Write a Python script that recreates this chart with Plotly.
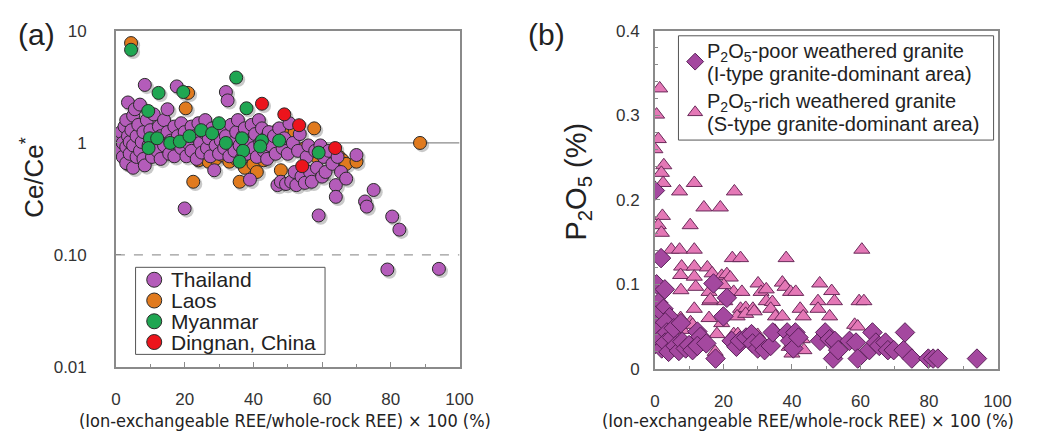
import plotly.graph_objects as go

W, H = 1039, 439

# ---------------- Panel (a): Ce/Ce* vs. ion-exchangeable fraction ----------------
thai_x = [0, 0.5, 1, 1, 1.5, 2, 2, 2.5, 3, 3, 3, 3.5, 3.5, 4, 4, 4.5, 5, 5, 5, 5.5, 6, 6, 6.5, 7, 7, 7.5, 8, 8, 8.4, 8.4, 9, 9.5,
          10, 10.5, 11, 11, 12, 12.5, 13, 13, 14, 14, 15, 15, 15.5, 16, 17, 17, 17.7, 18, 19, 19, 20, 20, 20.5,
          21, 22, 22, 23, 23.5, 24, 24.5, 25, 25.5, 26, 26.5, 27, 27.5, 28, 28.6, 29, 29.5, 30, 30.5,
          31, 31.5, 32, 32.5, 32, 33, 33.5, 34, 34.5, 35, 35.5, 36, 36.5, 37, 37.5, 38, 38.5, 39, 39.5, 40,
          40.5, 41, 41.6, 42, 42.5, 43, 43.5, 44, 44.5, 45, 46, 46.5, 47, 47.5, 48, 48.5, 49, 49.5,
          50, 50.5, 51, 51.5, 52, 52.5, 53, 53.5, 54, 55, 55.5, 56, 56.5, 57, 58, 58.5, 59, 59.5, 60,
          60.5, 61, 62, 63, 64, 64, 64.5, 65.5, 67, 70,
          72.5, 73, 75, 79, 80.4, 82.5, 94]
thai_y = [1.05, 0.95, 1.12, 0.85, 1.25, 0.75, 1.0, 1.4, 0.66, 0.92, 1.6, 1.15, 2.3, 0.8, 1.02, 1.3, 0.6, 1.75, 0.95, 2.0, 0.75, 1.15, 1.45, 0.85, 2.2, 1.02, 0.72, 1.25, 3.3, 0.63, 1.6, 0.95,
          1.3, 0.75, 1.8, 1.05, 0.85, 1.4, 0.72, 1.15, 1.6, 0.95, 2.0, 1.25, 0.8, 1.05, 1.4, 0.76, 3.2, 1.15, 0.9, 1.5, 0.26, 1.25, 0.76,
          1.0, 1.4, 0.85, 1.15, 0.72, 1.5, 1.0, 0.82, 1.25, 1.6, 0.9, 1.1, 0.76, 1.35, 0.57, 0.95, 1.2, 0.8, 1.05,
          1.35, 0.9, 2.85, 2.4, 1.15, 0.76, 1.45, 1.0, 0.85, 1.25, 1.6, 0.95, 0.72, 1.15, 1.35, 0.8, 1.0, 0.47, 1.45, 0.9,
          1.2, 0.75, 1.6, 1.0, 1.35, 0.85, 1.1, 0.72, 1.25, 0.95, 1.15, 0.8, 0.42, 1.35, 0.45, 0.9, 1.1, 0.43,
          0.8, 1.5, 0.45, 1.0, 0.55, 0.42, 0.85, 1.2, 0.5, 0.44, 0.75, 0.95, 0.55, 0.45, 0.85, 0.6, 0.225, 0.95, 0.5,
          0.75, 0.55, 0.85, 0.65, 0.42, 0.33, 0.75, 0.55, 0.48, 0.78,
          0.3, 0.27, 0.38, 0.074, 0.22, 0.168, 0.075]

laos_x = [4.4, 5, 3.5, 20.3, 21, 22.5, 24, 27, 29, 31, 33, 35, 36, 37.5, 40, 41, 43, 44, 45.5, 47, 48, 50, 52, 55,
          57.7, 58.5, 62, 65, 66, 67, 70, 88.5]
laos_y = [7.8, 0.7, 0.65, 2.04, 2.8, 0.45, 0.7, 0.68, 0.72, 0.78, 0.68, 0.72, 0.45, 0.6, 0.65, 0.55, 0.7, 0.8, 1.2, 1.3, 0.57, 1.35, 1.25, 0.9,
          1.35, 0.75, 0.8, 0.75, 0.7, 0.65, 0.68, 1.0]

myan_x = [4.4, 9.4, 9.9, 9.5, 12, 12.4, 15.8, 18.6, 19.6, 21.4, 24.8, 28, 30, 32, 35, 36.7, 37, 36, 38, 42.5, 42, 47.5, 59]
myan_y = [6.8, 1.93, 1.1, 0.9, 1.1, 2.8, 1.0, 1.03, 2.85, 1.15, 1.3, 1.22, 1.5, 1.0, 3.84, 1.1, 0.85, 0.68, 2.04, 1.05, 0.93, 1.05, 0.82]

ding_x = [42.5, 49, 53.3, 63.8, 54.2]
ding_y = [2.24, 1.8, 1.44, 0.9, 0.62]

# ---------------- Panel (b): P2O5 vs. ion-exchangeable fraction ----------------
itype_x = [0, 1.8, 0.5, 2.9, 17.1, 21.0, 20.0, 1.0, 2.5, 4.3, 0.0, 0.0, 0.0, 0.0, 1.0, 1.5, 2.0, 3.0, 3.5, 3.0,
           4.0, 5.0, 5.5, 6.0, 7.0, 7.6, 8.0, 9.0, 10.0, 11.0, 12.4, 13.3, 12.4, 15.0, 17.7, 22.4, 23.8, 24.8,
           26.6, 28.2, 28.5, 30.0, 30.6, 32.0, 33.8, 34.4, 38.6, 39.5, 40.4, 41.0, 41.9, 48.2, 49.7, 51.0, 52.0,
           52.5, 53.5, 56.8, 58.7, 59.2, 62.6, 63.5, 64.5, 65.5, 67.3, 68.0, 69.7, 72.6, 73.0, 75.0, 79.8, 81.2,
           82.6, 94.0]
itype_y = [0.211, 0.131, 0.100, 0.094, 0.101, 0.084, 0.062, 0.078, 0.071, 0.061, 0.063, 0.052, 0.041, 0.029, 0.046,
           0.035, 0.024, 0.055, 0.043, 0.031, 0.020, 0.037, 0.048, 0.027, 0.021, 0.054, 0.032, 0.024, 0.028, 0.022,
           0.044, 0.038, 0.027, 0.030, 0.012, 0.033, 0.026, 0.033, 0.037, 0.041, 0.030, 0.024, 0.031, 0.022, 0.027,
           0.043, 0.043, 0.033, 0.024, 0.043, 0.037, 0.033, 0.043, 0.035, 0.012, 0.033, 0.022, 0.033, 0.031, 0.012,
           0.022, 0.043, 0.031, 0.027, 0.031, 0.022, 0.022, 0.022, 0.043, 0.012, 0.012, 0.012, 0.012, 0.012]

stype_x = [1.4, 0.5, 1.0, 0.0, 2.6, 1.9, 2.4, 11.5, 7.2, 23.2, 14.3, 19.1, 2.2, 1.0, 10.3, 1.9, 4.8, 7.2, 11.5,
           22.6, 25.0, 38.3, 60.4, 7.8, 11.5, 15.3, 7.5, 11.5, 16.7, 19.5, 21.0, 22.0, 0.0, 7.6, 11.9, 15.8, 17.7,
           20.1, 23.0, 25.4, 30.1, 31.0, 32.5, 37.2, 38.0, 39.6, 41.1, 48.1, 51.6, 11.5, 16.0, 20.4, 25.0, 26.5,
           28.6, 32.5, 34.3, 33.8, 35.2, 37.2, 42.4, 43.3, 47.6, 47.6, 52.4, 51.0, 59.6, 61.0, 58.3, 59.2, 7.5,
           10.4, 15.8, 19.5, 24.0, 26.5, 29.0, 8.0, 12.8, 11.4, 23.0, 24.2, 17.6, 40.5, 43.0, 40.0, 43.5, 35.0,
           30.0, 16.2, 11.0, 18.1, 39.2]
stype_y = [0.332, 0.301, 0.272, 0.260, 0.241, 0.232, 0.220, 0.220, 0.210, 0.210, 0.191, 0.191, 0.181, 0.170, 0.170,
           0.161, 0.141, 0.141, 0.141, 0.131, 0.131, 0.131, 0.141, 0.121, 0.121, 0.120, 0.111, 0.109, 0.113, 0.110,
           0.112, 0.108, 0.100, 0.093, 0.097, 0.091, 0.101, 0.099, 0.091, 0.091, 0.101, 0.091, 0.094, 0.102, 0.097,
           0.091, 0.091, 0.101, 0.092, 0.071, 0.080, 0.080, 0.071, 0.072, 0.071, 0.080, 0.079, 0.071, 0.062, 0.062,
           0.071, 0.062, 0.080, 0.071, 0.080, 0.062, 0.080, 0.080, 0.052, 0.050, 0.060, 0.055, 0.060, 0.054, 0.062,
           0.065, 0.068, 0.046, 0.041, 0.033, 0.041, 0.041, 0.020, 0.041, 0.035, 0.018, 0.022, 0.045, 0.040, 0.082,
           0.052, 0.041, 0.026]

FONT = "Liberation Sans, Arial, sans-serif"
NARROW = "Liberation Sans Narrow, Arial Narrow, DejaVu Sans Condensed, Liberation Sans, sans-serif"
INK = "#222222"
FRAME = "#8a8a8a"


def px_x(p):
    return p / W


def px_y(p):
    return 1 - p / H


fig = go.Figure()

# reference lines in panel (a)
fig.add_trace(go.Scatter(x=[0, 100], y=[1, 1], mode="lines", line=dict(color=FRAME, width=1.2),
                         showlegend=False, hoverinfo="skip", xaxis="x", yaxis="y"))
fig.add_trace(go.Scatter(x=[0, 100], y=[0.1, 0.1], mode="lines", line=dict(color="#9a9a9a", width=1.2, dash="dash"),
                         showlegend=False, hoverinfo="skip", xaxis="x", yaxis="y"))

groups_a = [
    # name, x, y, fill colour, legend row
    ("Laos", laos_x, laos_y, "#e07a1e", 1),
    ("Thailand", thai_x, thai_y, "#b45cba", 0),
    ("Myanmar", myan_x, myan_y, "#1fa652", 2),
    ("Dingnan, China", ding_x, ding_y, "#ec141c", 3),
]

# soft drop shadows under the markers
sx, sy = [], []
for _, gx, gy, _, _ in groups_a:
    sx += [v + 0.6 for v in gx]
    sy += [v * 0.955 for v in gy]
fig.add_trace(go.Scatter(x=sx, y=sy, mode="markers", showlegend=False, hoverinfo="skip",
                         marker=dict(size=14, color="rgba(60,60,60,0.28)", line=dict(width=0)),
                         xaxis="x", yaxis="y"))

for name, gx, gy, col, _ in groups_a:
    fig.add_trace(go.Scatter(x=gx, y=gy, mode="markers", name=name, showlegend=False,
                             marker=dict(size=13, color=col, opacity=1, line=dict(color="#2a2a2a", width=1)),
                             xaxis="x", yaxis="y"))

TRI = dict(symbol="triangle-up", color="#e478b6", line=dict(color="#6a2a5a", width=1))
DIA = dict(symbol="diamond", color="#a4489f", line=dict(color="#5a1f58", width=1))

fig.add_trace(go.Scatter(x=stype_x, y=stype_y, mode="markers", showlegend=False,
                         name="P2O5-rich weathered granite (S-type granite-dominant area)",
                         marker=dict(size=14, opacity=1, **TRI), xaxis="x2", yaxis="y2"))
fig.add_trace(go.Scatter(x=itype_x, y=itype_y, mode="markers", showlegend=False,
                         name="P2O5-poor weathered granite (I-type granite-dominant area)",
                         marker=dict(size=15, opacity=1, **DIA), xaxis="x2", yaxis="y2"))

# ---------------- legend keys, drawn on a pixel-space overlay ----------------
key_x, key_y, key_sym, key_col, key_line, key_size = [], [], [], [], [], []
annotations = []

# panel (a) legend: one row per country
for name, _, _, col, row in groups_a:
    yc = 283 + 21.7 * row
    key_x.append(152); key_y.append(yc); key_sym.append("circle"); key_col.append(col)
    key_line.append("#2a2a2a"); key_size.append(15)
    annotations.append(dict(text=name, x=px_x(167), y=px_y(yc), xanchor="left", yanchor="middle",
                            font=dict(family=FONT, size=21, color=INK)))

# panel (b) legend: two entries of two lines each
legend_b = [
    (DIA, 13, ["P<sub>2</sub>O<sub>5</sub>-poor weathered granite", "(I-type granite-dominant area)"], 45),
    (TRI, 13, ["P<sub>2</sub>O<sub>5</sub>-rich weathered granite", "(S-type granite-dominant area)"], 98),
]
for style, size, lines, top in legend_b:
    key_x.append(703); key_y.append(top + 10); key_sym.append(style["symbol"]); key_col.append(style["color"])
    key_line.append(style["line"]["color"]); key_size.append(size)
    for i, line in enumerate(lines):
        annotations.append(dict(text=line, x=px_x(713), y=px_y(top + 22.5 * i), xanchor="left", yanchor="middle",
                                font=dict(family=FONT, size=20, color=INK)))

fig.add_trace(go.Scatter(x=key_x, y=key_y, mode="markers", showlegend=False, hoverinfo="skip",
                         marker=dict(symbol=key_sym, color=key_col, size=key_size, opacity=1,
                                     line=dict(color=key_line, width=1)),
                         xaxis="x3", yaxis="y3"))

shapes = [
    dict(type="rect", xref="paper", yref="paper", x0=px_x(133), x1=px_x(326), y0=px_y(361), y1=px_y(270),
         line=dict(color="#555555", width=1), fillcolor="rgba(0,0,0,0)", layer="above"),
    dict(type="rect", xref="paper", yref="paper", x0=px_x(686), x1=px_x(1007), y0=px_y(137), y1=px_y(28),
         line=dict(color="#555555", width=1), fillcolor="rgba(0,0,0,0)", layer="above"),
]

axis_common = dict(showline=True, mirror=True, linecolor=FRAME, linewidth=1.5, showgrid=False,
                   zeroline=False, ticks="inside", ticklen=5, tickcolor=FRAME,
                   tickfont=dict(family=FONT, size=17, color="#333333"))

fig.update_layout(
    width=W, height=H,
    margin=dict(l=0, r=0, t=0, b=0),
    paper_bgcolor="white", plot_bgcolor="rgba(0,0,0,0)",
    showlegend=False,
    xaxis=dict(domain=[px_x(113), px_x(463)], range=[0, 100], anchor="y",
               tickvals=[0, 20, 40, 60, 80, 100], ticklabelstandoff=16,
               minor=dict(dtick=10, ticks="inside", ticklen=3, tickcolor=FRAME), **axis_common),
    yaxis=dict(domain=[px_y(374), px_y(23)], type="log", range=[-2, 1], anchor="x",
               tickvals=[0.01, 0.1, 1, 10], ticktext=["0.01", "0.10", "1", "10"], ticklabelstandoff=24,
               **axis_common),
    xaxis2=dict(domain=[px_x(662), px_x(1011)], range=[0, 100], anchor="y2",
                tickvals=[0, 20, 40, 60, 80, 100], ticklabelstandoff=16,
                minor=dict(dtick=10, ticks="inside", ticklen=3, tickcolor=FRAME), **axis_common),
    yaxis2=dict(domain=[px_y(376), px_y(23)], range=[0, 0.4], anchor="x2",
                tickvals=[0, 0.1, 0.2, 0.3, 0.4], ticktext=["0", "0.1", "0.2", "0.3", "0.4"], ticklabelstandoff=10,
                minor=dict(dtick=0.02, ticks="inside", ticklen=3, tickcolor=FRAME), **axis_common),
    xaxis3=dict(domain=[0, 1], range=[0, W], visible=False, fixedrange=True, anchor="y3"),
    yaxis3=dict(domain=[0, 1], range=[H, 0], visible=False, fixedrange=True, anchor="x3"),
    shapes=shapes,
)

annotations += [
    dict(text="(a)", x=px_x(32), y=px_y(27), font=dict(family=FONT, size=30, color=INK)),
    dict(text="(b)", x=px_x(552), y=px_y(27), font=dict(family=FONT, size=30, color=INK)),
    dict(text="Ce/Ce<sup>*</sup>", x=px_x(28), y=px_y(176), textangle=-90,
         font=dict(family=FONT, size=26, color=INK)),
    dict(text="P<sub>2</sub>O<sub>5</sub> (%)", x=px_x(584), y=px_y(180), textangle=-90,
         font=dict(family=FONT, size=29, color=INK)),
    dict(text="(Ion-exchangeable REE/whole-rock REE) × 100 (%)", x=px_x(285), y=px_y(430),
         font=dict(family=NARROW, size=18, color=INK)),
    dict(text="(Ion-exchangeable REE/whole-rock REE) × 100 (%)", x=px_x(818), y=px_y(430),
         font=dict(family=NARROW, size=18, color=INK)),
]
for a in annotations:
    a.setdefault("xanchor", "center")
    a.setdefault("yanchor", "middle")
    a.update(xref="paper", yref="paper", showarrow=False)
fig.update_layout(annotations=annotations)

fig.write_html("out.html")
